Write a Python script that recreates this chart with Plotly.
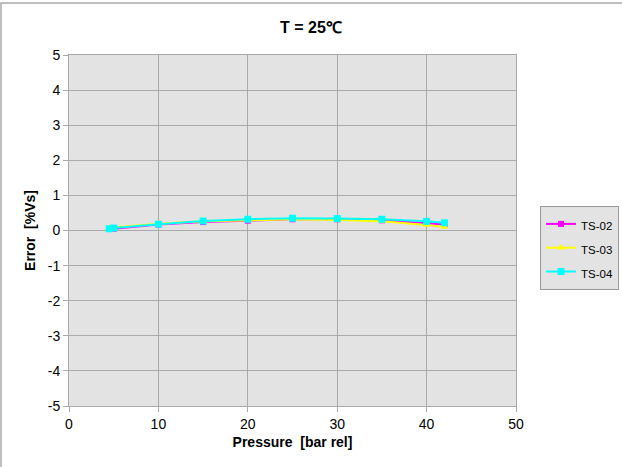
import plotly.graph_objects as go

pressure_02 = [5, 10, 15, 20, 25, 30, 35, 40, 42]
error_02 = [0.05, 0.17, 0.24, 0.28, 0.32, 0.32, 0.29, 0.21, 0.17]

pressure_03 = [4.5, 10, 15, 20, 25, 30, 35, 40, 42]
error_03 = [0.08, 0.19, 0.26, 0.30, 0.32, 0.30, 0.26, 0.16, 0.10]

pressure_04 = [4.5, 5, 10, 15, 20, 25, 30, 35, 40, 42]
error_04 = [0.05, 0.07, 0.18, 0.27, 0.32, 0.35, 0.34, 0.32, 0.26, 0.22]

series_names = ["TS-02", "TS-03", "TS-04"]
x_ticks = [0, 10, 20, 30, 40, 50]
y_ticks = [-5, -4, -3, -2, -1, 0, 1, 2, 3, 4, 5]


def lname(s):
    return '<span style="font-size:11.5px">' + s + '</span>'


fig = go.Figure()
fig.add_trace(go.Scatter(x=pressure_02, y=error_02, name=lname(series_names[0]), mode="lines+markers",
                         line=dict(color="#ff00ff", width=2),
                         marker=dict(symbol="square", size=6, color="#ff00ff")))
fig.add_trace(go.Scatter(x=pressure_03, y=error_03, name=lname(series_names[1]), mode="lines+markers",
                         line=dict(color="#ffff00", width=2),
                         marker=dict(symbol="triangle-up", size=7, color="#ffff00")))
fig.add_trace(go.Scatter(x=pressure_04, y=error_04, name=lname(series_names[2]), mode="lines+markers",
                         line=dict(color="#00ffff", width=2),
                         marker=dict(symbol="square", size=7, color="#00ffff")))

axis_font = dict(family="Arial, Liberation Sans, sans-serif", size=14, color="#000")
fig.update_layout(
    width=622, height=467,
    margin=dict(l=69, r=106, t=55, b=61),
    paper_bgcolor="white",
    plot_bgcolor="#e3e3e3",
    font=dict(family="Arial, Liberation Sans, sans-serif", size=14, color="#000"),
    title=dict(text="<b>T = 25℃</b>", x=0.5, xanchor="center", y=0.942, yanchor="middle",
               xref="container",
               font=dict(family="Arial, Liberation Sans, sans-serif", size=16, color="#000")),
    xaxis=dict(range=[0, 50], tickvals=x_ticks, ticktext=[str(v) for v in x_ticks],
               showgrid=True, gridcolor="#aaaaaa", gridwidth=1, automargin=False,
               zeroline=False, showline=True, linecolor="#aaaaaa", mirror=True,
               ticks="outside", ticklen=5, tickcolor="#aaaaaa",
               tickfont=axis_font,
               title=dict(text="<b>Pressure  [bar rel]</b>", font=axis_font, standoff=6)),
    yaxis=dict(range=[-5, 5], tickvals=y_ticks, ticktext=[str(v) for v in y_ticks],
               showgrid=True, gridcolor="#aaaaaa", gridwidth=1, automargin=False,
               zeroline=False, showline=True, linecolor="#aaaaaa", mirror=True,
               ticks="outside", ticklen=5, tickcolor="#aaaaaa",
               tickfont=axis_font,
               title=dict(text="<b>Error  [%Vs]</b>", font=axis_font, standoff=8)),
    legend=dict(xref="container", yref="container",
                x=540 / 622, xanchor="left", y=1 - 290 / 467, yanchor="bottom",
                bgcolor="#e3e3e3", bordercolor="#999999", borderwidth=1,
                font=dict(family="Arial, Liberation Sans, sans-serif", size=16, color="#000"),
                itemwidth=30),
    showlegend=True,
)
fig.add_shape(type="rect", xref="paper", yref="paper",
              x0=(1 - 69) / 447, x1=(640 - 69) / 447,
              y0=(406 - 480) / 351, y1=(406 - 3) / 351,
              line=dict(color="#aaaaaa", width=1.5), fillcolor="rgba(0,0,0,0)", layer="below")

fig.write_html("out.html", config={"displayModeBar": False},
               post_script="document.body.style.margin='0';")
